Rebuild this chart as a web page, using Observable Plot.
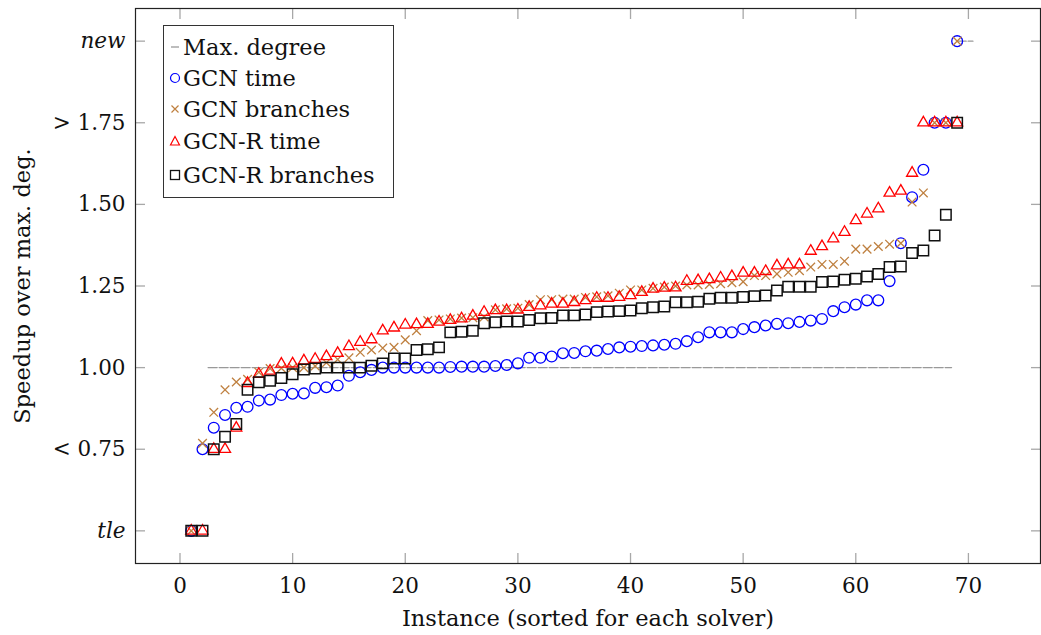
<!DOCTYPE html>
<html><head><meta charset="utf-8">
<script src="https://cdn.jsdelivr.net/npm/d3@7"></script>
<script src="https://cdn.jsdelivr.net/npm/@observablehq/plot@0.6"></script>
<style>
body{margin:0;background:#fff;}
#wrap{position:relative;width:1041px;height:635px;font-family:"DejaVu Serif",serif;color:#111;}
#legend{position:absolute;left:163px;top:25px;width:231px;height:173px;border:1px solid #333;background:#fff;box-sizing:border-box;font-size:22.5px;}
#legend .row{position:absolute;left:0;height:30px;display:flex;align-items:center;white-space:nowrap;}
#legend svg{margin-left:5px;margin-right:2px;}
</style></head>
<body><div id="wrap"></div>
<script>
const instance = [1,2,3,4,5,6,7,8,9,10,11,12,13,14,15,16,17,18,19,20,21,22,23,24,25,26,27,28,29,30,31,32,33,34,35,36,37,38,39,40,41,42,43,44,45,46,47,48,49,50,51,52,53,54,55,56,57,58,59,60,61,62,63,64,65,66,67,68,69];
const gcnTime = [0.5,0.75,0.816,0.855,0.877,0.88,0.899,0.902,0.916,0.92,0.921,0.938,0.94,0.945,0.975,0.986,0.993,1.0,1.0,1.0,1.0,1.0,1.0,1.002,1.003,1.003,1.003,1.005,1.008,1.013,1.03,1.03,1.034,1.044,1.045,1.05,1.052,1.057,1.062,1.064,1.066,1.068,1.07,1.073,1.081,1.093,1.108,1.108,1.108,1.118,1.124,1.129,1.134,1.136,1.14,1.144,1.149,1.173,1.185,1.193,1.206,1.206,1.265,1.381,1.522,1.606,1.75,1.75,2.0];
const gcnBranches = [0.5,0.768,0.863,0.932,0.956,0.964,0.986,0.997,0.998,1.0,1.0,1.005,1.015,1.025,1.03,1.047,1.054,1.06,1.062,1.085,1.113,1.144,1.146,1.149,1.152,1.153,1.155,1.177,1.18,1.182,1.193,1.208,1.208,1.21,1.21,1.215,1.217,1.22,1.228,1.238,1.238,1.243,1.247,1.25,1.253,1.253,1.255,1.257,1.26,1.263,1.282,1.282,1.287,1.292,1.297,1.308,1.316,1.316,1.326,1.363,1.363,1.371,1.378,1.381,1.507,1.535,1.75,1.75,2.0];
const gcnrTime = [0.5,0.5,0.75,0.75,0.815,0.952,0.98,0.99,1.011,1.012,1.021,1.026,1.034,1.044,1.065,1.078,1.086,1.113,1.122,1.131,1.132,1.133,1.14,1.145,1.15,1.158,1.17,1.175,1.175,1.177,1.185,1.19,1.195,1.195,1.2,1.206,1.213,1.213,1.216,1.221,1.231,1.241,1.244,1.245,1.265,1.267,1.27,1.275,1.279,1.29,1.29,1.295,1.312,1.315,1.315,1.357,1.371,1.395,1.415,1.451,1.471,1.487,1.535,1.541,1.596,1.75,1.75,1.75,1.75];
const gcnrBranches = [0.5,0.5,0.75,0.788,0.827,0.932,0.955,0.96,0.968,0.98,0.994,0.997,1.0,1.0,1.0,1.0,1.006,1.013,1.028,1.028,1.054,1.056,1.062,1.108,1.11,1.113,1.136,1.139,1.141,1.141,1.146,1.151,1.152,1.16,1.16,1.163,1.17,1.172,1.173,1.175,1.182,1.185,1.187,1.2,1.2,1.202,1.211,1.214,1.214,1.216,1.219,1.221,1.236,1.248,1.248,1.248,1.262,1.264,1.269,1.272,1.279,1.287,1.308,1.31,1.351,1.359,1.405,1.468,1.75];
const maxDegX = [2.5,68.5,69,70.4];
const maxDegY = [1,1,2,2];
const maxDegSeg = ["a","a","b","b"];
const xTicks = [0,10,20,30,40,50,60,70];
const yTickValues = [0.5,0.75,1.0,1.25,1.5,1.75,2.0];
const yTickLabels = ["tle","< 0.75","1.00","1.25","1.50","> 1.75","new"];
const seriesNames = ["Max. degree","GCN time","GCN branches","GCN-R time","GCN-R branches"];
const xLabel = "Instance (sorted for each solver)";
const yLabel = "Speedup over max. deg.";

const rows = instance.map((k,i)=>({k, a:gcnTime[i], b:gcnBranches[i], c:gcnrTime[i], d:gcnrBranches[i]}));
const maxDeg = maxDegX.map((x,i)=>({x, y:maxDegY[i], s:maxDegSeg[i]}));

const tickStroke = "#a8a8a8";
const plot = Plot.plot({
  width:1041, height:635,
  marginLeft:135, marginRight:1, marginTop:8, marginBottom:72,
  style:{fontFamily:"DejaVu Serif, serif", fontSize:"21px", color:"#111", background:"#fff", overflow:"visible"},
  x:{domain:[-3.95,76.4], label:null},
  y:{domain:[0.4,2.1], label:null},
  marks:[
    Plot.axisX(xTicks, {anchor:"bottom", tickSize:0, tickPadding:14, label:null, fontSize:21.5}),
    Plot.axisX(xTicks, {anchor:"bottom", tickSize:-10, tickFormat:()=>"", label:null, stroke:tickStroke, strokeWidth:1.3}),
    Plot.axisX(xTicks, {anchor:"top", tickSize:-10, tickFormat:()=>"", label:null, stroke:tickStroke, strokeWidth:1.3}),
    Plot.axisY(yTickValues, {anchor:"left", tickSize:0, tickPadding:10, label:null, fontSize:21.5, tickFormat:v=>yTickLabels[yTickValues.indexOf(v)]}),
    Plot.axisY(yTickValues, {anchor:"left", tickSize:-10, tickFormat:()=>"", label:null, stroke:tickStroke, strokeWidth:1.3}),
    Plot.axisY(yTickValues, {anchor:"right", tickSize:-10, tickFormat:()=>"", label:null, stroke:tickStroke, strokeWidth:1.3}),
    Plot.frame({stroke:"#222", strokeWidth:1.2}),
    Plot.text([xLabel], {frameAnchor:"bottom", lineAnchor:"middle", textAnchor:"middle", dy:55, fontSize:22.5}),
    Plot.text([yLabel], {frameAnchor:"left", textAnchor:"middle", lineAnchor:"middle", rotate:-90, dx:-113, fontSize:22.5}),
    Plot.line(maxDeg, {x:"x", y:"y", z:"s", stroke:"#999", strokeWidth:1.4, strokeDasharray:"9,2"}),
    Plot.dot(rows, {x:"k", y:"a", symbol:"circle", r:5.4, stroke:"#0000ff", strokeWidth:1.3, fill:"none"}),
    Plot.dot(rows, {x:"k", y:"b", symbol:"times", r:4, stroke:"#bf8040", strokeWidth:1.3, fill:"none"}),
    Plot.dot(rows, {x:"k", y:"c", symbol:"triangle", r:4.1, stroke:"#ff0000", strokeWidth:1.3, fill:"none"}),
    Plot.dot(rows, {x:"k", y:"d", symbol:"square", r:5.9, stroke:"#111", strokeWidth:1.5, fill:"none"})
  ]
});
const wrap = document.getElementById("wrap");
wrap.appendChild(plot);
d3.select(plot).selectAll("text").filter(function(){const t=this.textContent;return t==="tle"||t==="new";}).attr("font-style","italic");

// legend
const icons = [
  '<svg width="12" height="12"><line x1="2" x2="10" y1="6" y2="6" stroke="#999" stroke-width="1.3"/></svg>',
  '<svg width="12" height="12"><circle cx="6" cy="6" r="4.5" fill="none" stroke="#0000ff" stroke-width="1.2"/></svg>',
  '<svg width="12" height="12"><path d="M2.5,2.5L9.5,9.5M9.5,2.5L2.5,9.5" stroke="#bf8040" stroke-width="1.2"/></svg>',
  '<svg width="12" height="12"><path d="M6,1.5L10.5,10L1.5,10Z" fill="none" stroke="#ff0000" stroke-width="1.2"/></svg>',
  '<svg width="12" height="12"><rect x="1.5" y="1.5" width="9" height="9" fill="none" stroke="#111" stroke-width="1.3"/></svg>'
];
const lg = document.createElement("div");
lg.id = "legend";
const tops = [6,37,68,100,134];
lg.innerHTML = seriesNames.map((n,i)=>`<div class="row" style="top:${tops[i]}px">${icons[i]}<span>${n}</span></div>`).join("");
wrap.appendChild(lg);
</script>
</body></html>
